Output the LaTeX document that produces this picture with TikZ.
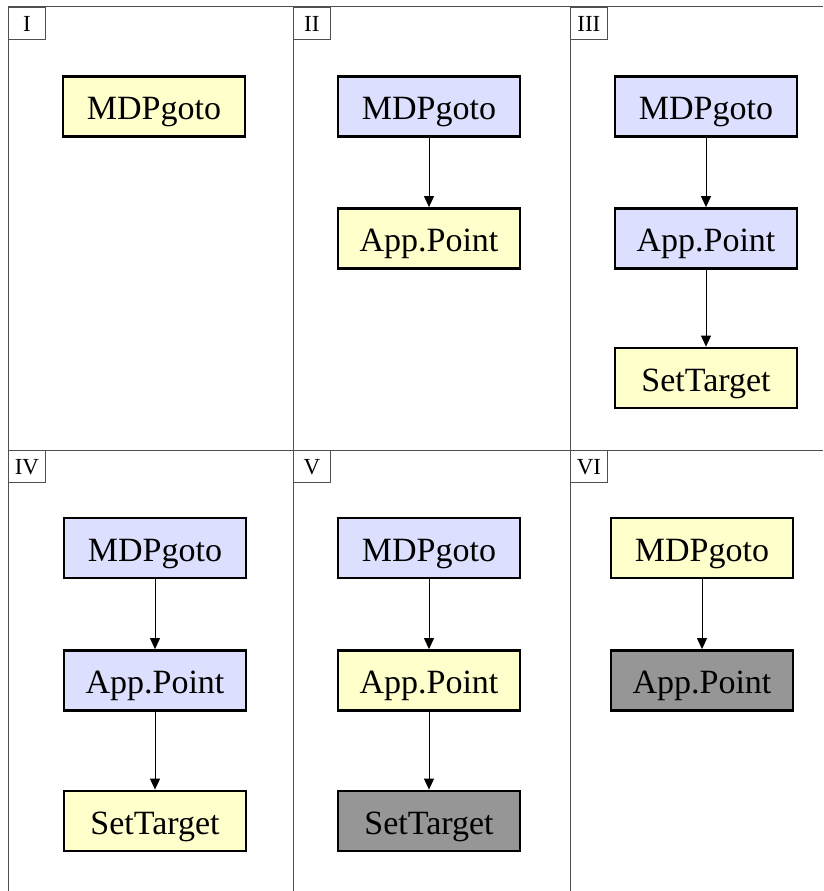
\documentclass[tikz,border=0pt]{standalone}
\usepackage{fontspec}
\setmainfont{Liberation Serif}
\usetikzlibrary{arrows.meta}
\definecolor{stateblue}{HTML}{DDDFFF}
\definecolor{stateyellow}{HTML}{FFFFCC}
\definecolor{stategray}{HTML}{969696}
\definecolor{rulegray}{HTML}{505050}
\tikzset{
  statebox/.style={draw=black, line width=2.8pt, minimum width=182pt, minimum height=60pt,
    inner sep=0pt, text height=26pt, text depth=0pt, font=\fontsize{34}{38}\selectfont},
  active/.style={statebox, fill=stateyellow},
  done/.style={statebox, fill=stateblue},
  failed/.style={statebox, fill=stategray},
  tag/.style={draw=rulegray, line width=0.8pt, anchor=north west, minimum width=37pt,
    minimum height=32pt, inner sep=0pt, text height=16pt, text depth=0pt,
    font=\fontsize{23}{25}\selectfont},
  frame/.style={draw=rulegray, line width=1pt},
  link/.style={draw=black, line width=1pt, -{Triangle[width=10pt,length=11pt]}}
}
\begin{document}
\begin{tikzpicture}[x=1pt,y=-1pt]
\useasboundingbox (0,0) rectangle (823,891);
% grid of panels
\draw[frame] (8,7) -- (823,7);
\draw[frame] (8,450) -- (823,450);
\draw[frame] (8,7) -- (8,891);
\draw[frame] (293,7) -- (293,891);
\draw[frame] (570,7) -- (570,891);
% panel tags
\node[tag] (t1) at (8,7) {I};
\node[tag] (t2) at (293,7) {II};
\node[tag] (t3) at (570,7) {III};
\node[tag] (t4) at (8,450) {IV};
\node[tag] (t5) at (293,450) {V};
\node[tag] (t6) at (570,450) {VI};
% panel I
\node[active] (a1) at (154,106.5) {MDPgoto};
% panel II
\node[done] (a2) at (429,106.5) {MDPgoto};
\node[active] (b2) at (429,238.5) {App.Point};
\draw[link] (a2) -- (b2);
% panel III
\node[done] (a3) at (706,106.5) {MDPgoto};
\node[done] (b3) at (706,238.5) {App.Point};
\node[active] (c3) at (706,378) {SetTarget};
\draw[link] (a3) -- (b3);
\draw[link] (b3) -- (c3);
% panel IV
\node[done] (a4) at (155,548) {MDPgoto};
\node[done] (b4) at (155,680.5) {App.Point};
\node[active] (c4) at (155,821) {SetTarget};
\draw[link] (a4) -- (b4);
\draw[link] (b4) -- (c4);
% panel V
\node[done] (a5) at (429,548) {MDPgoto};
\node[active] (b5) at (429,680.5) {App.Point};
\node[failed] (c5) at (429,821) {SetTarget};
\draw[link] (a5) -- (b5);
\draw[link] (b5) -- (c5);
% panel VI
\node[active] (a6) at (702,548) {MDPgoto};
\node[failed] (b6) at (702,680.5) {App.Point};
\draw[link] (a6) -- (b6);
\end{tikzpicture}
\end{document}
